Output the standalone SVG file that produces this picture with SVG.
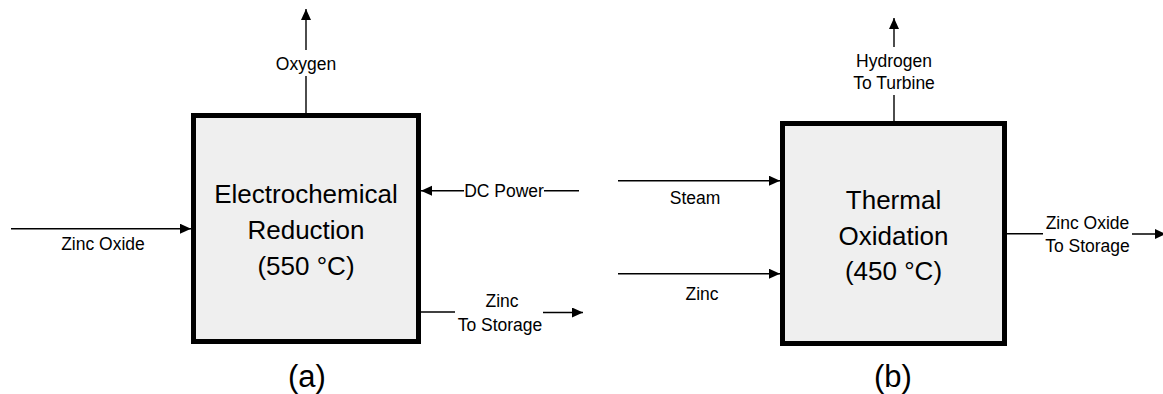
<svg xmlns="http://www.w3.org/2000/svg" width="1163" height="394" viewBox="0 0 1163 394">
<defs>
<style>
.box{fill:#efefef;stroke:#000;stroke-width:5}
.ln{stroke:#000;stroke-width:1.4;fill:none}
.big{font-family:"Liberation Sans",Arial,sans-serif;font-size:26px;fill:#000;text-anchor:middle}
.sm{font-family:"Liberation Sans",Arial,sans-serif;font-size:17.5px;fill:#000;text-anchor:middle}
.cap{font-family:"Liberation Sans",Arial,sans-serif;font-size:31px;fill:#000;text-anchor:middle}
</style>
<marker id="ah" markerUnits="userSpaceOnUse" markerWidth="12" markerHeight="11" refX="11" refY="5" orient="auto">
<path d="M0,0 L11,5 L0,10 z" fill="#000"/>
</marker>
</defs>
<rect width="1163" height="394" fill="#fff"/>
<g id="connectors">
<line class="ln" x1="306" y1="113" x2="306" y2="76"/>
<line class="ln" x1="306" y1="50" x2="306" y2="9" marker-end="url(#ah)"/>
<line class="ln" x1="464" y1="190.7" x2="421" y2="190.7" marker-end="url(#ah)"/>
<line class="ln" x1="544" y1="190.7" x2="579" y2="190.7"/>
<line class="ln" x1="11" y1="228.7" x2="191" y2="228.7" marker-end="url(#ah)"/>
<line class="ln" x1="421" y1="312" x2="455" y2="312"/>
<line class="ln" x1="543" y1="312.5" x2="583" y2="312.5" marker-end="url(#ah)"/>
<line class="ln" x1="618" y1="180.7" x2="780" y2="180.7" marker-end="url(#ah)"/>
<line class="ln" x1="618" y1="273.7" x2="780" y2="273.7" marker-end="url(#ah)"/>
<line class="ln" x1="894" y1="121" x2="894" y2="95"/>
<line class="ln" x1="894" y1="47" x2="894" y2="18" marker-end="url(#ah)"/>
<line class="ln" x1="1007" y1="233.7" x2="1043" y2="233.7"/>
<line class="ln" x1="1132" y1="234" x2="1166" y2="234" marker-end="url(#ah)"/>
<text class="sm" x="306" y="70">Oxygen</text>
<text class="sm" x="504" y="197">DC Power</text>
<text class="sm" x="103" y="250">Zinc Oxide</text>
<text class="sm" x="502" y="307">Zinc</text>
<text class="sm" x="500" y="331">To Storage</text>
<text class="sm" x="695" y="203.5">Steam</text>
<text class="sm" x="702" y="300">Zinc</text>
<text class="sm" x="894" y="67">Hydrogen</text>
<text class="sm" x="894" y="89">To Turbine</text>
<text class="sm" x="1087.5" y="229">Zinc Oxide</text>
<text class="sm" x="1087.5" y="252">To Storage</text>
</g>
<g id="node-a">
<rect class="box" x="193.5" y="115.5" width="225" height="226"/>
<text class="big" x="306" y="203">Electrochemical</text>
<text class="big" x="306" y="239">Reduction</text>
<text class="big" x="306" y="275">(550 °C)</text>
<text class="cap" x="307" y="387">(a)</text>
</g>
<g id="node-b">
<rect class="box" x="782.5" y="123.5" width="222" height="220"/>
<text class="big" x="893.5" y="209">Thermal</text>
<text class="big" x="893.5" y="245">Oxidation</text>
<text class="big" x="893.5" y="280">(450 °C)</text>
<text class="cap" x="893" y="387">(b)</text>
</g>
</svg>
